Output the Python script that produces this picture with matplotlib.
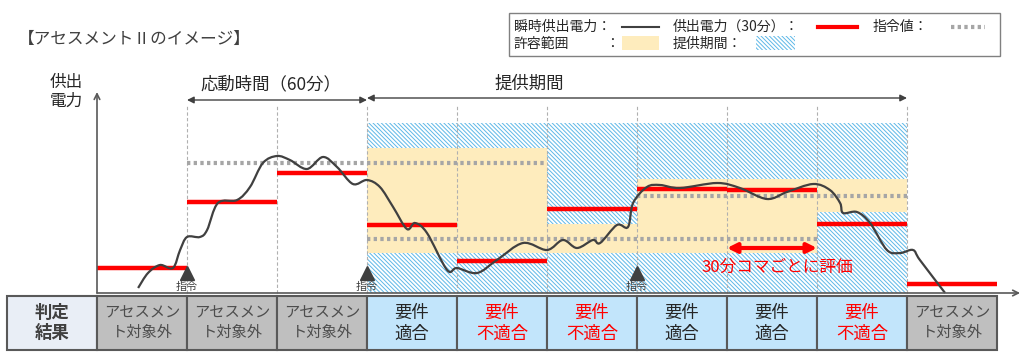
import matplotlib.pyplot as plt
from matplotlib.patches import Rectangle, PathPatch
from matplotlib.lines import Line2D
from matplotlib.path import Path

plt.rcParams['font.family'] = ['Noto Sans CJK JP', 'DejaVu Sans']
plt.rcParams['hatch.linewidth'] = 0.7

W, H = 1024, 355

# %% data (time in minutes, power in arbitrary units)
slot_edges = [0, 30, 60, 90, 120, 150, 180, 210, 240, 270, 300]
power_30min = [12.5, 45.5, 60, 34, 16, 42, 52, 51.5, 34.5, 4.5]

cmd_start = [30, 90, 180]
cmd_end = [150, 240, 270]
cmd_value = [65, 27, 48.5]

tol_start = [90, 150, 180, 240]
tol_end = [150, 180, 240, 270]
tol_low = [20, 20, 20, 40.5]
tol_high = [72.5, 34.5, 57, 57]

supply_start, supply_end, supply_top = 90, 270, 85
order_times = [30, 90, 180]

inst_t = [13.7, 17, 21, 25.3, 27.7, 30, 34.3, 36.7, 40.3, 46.7, 51, 55.3, 60, 64.3,
          70, 75.3, 80, 85.3, 90, 94.3, 98.7, 103.3, 106, 110, 116.7, 120, 126.7,
          133.3, 142, 150, 155.3, 160, 165.3, 167.7, 173.3, 177, 178.7, 183.3,
          187.7, 194.3, 206.7, 214.3, 223.3, 230, 238.7, 244.3, 247.7, 248.7,
          253.3, 257.7, 263.3, 267.7, 272, 274.3, 282.7]
inst_p = [2.5, 10, 14, 12.5, 21.5, 28, 28, 31.5, 45, 46.5, 53, 65, 68.5, 66.5,
          62, 68, 63, 54.5, 56.5, 53, 43, 32, 35, 30, 11.5, 12.5, 10,
          16.5, 25, 21.5, 26.5, 22.5, 26.5, 25, 34, 33, 45, 53,
          54, 52.5, 55, 52.5, 47, 50.5, 54.5, 51.5, 45, 40,
          40.5, 35, 21.5, 20, 21.5, 16.5, 0]

results = ['out', 'out', 'out', 'ok', 'ng', 'ng', 'ok', 'ok', 'ng', 'out']
result_text = {'out': 'アセスメン\nト対象外', 'ok': '要件\n適合', 'ng': '要件\n不適合'}

DARK = '#404040'
RED = '#ff0000'
DOT = '#a6a6a6'
YELLOW = '#feecbd'
HATCH = '#5db8e8'
HATCH_PAT = '\\' * 8


def smooth_path(xs, ys):
    # Catmull-Rom through the points, drawn as cubic Bezier segments
    pts = list(zip(xs, ys))
    verts = [pts[0]]
    codes = [Path.MOVETO]
    for i in range(len(pts) - 1):
        p0 = pts[i - 1] if i > 0 else pts[i]
        p1, p2 = pts[i], pts[i + 1]
        p3 = pts[i + 2] if i + 2 < len(pts) else pts[i + 1]
        c1 = (p1[0] + (p2[0] - p0[0]) / 6, p1[1] + (p2[1] - p0[1]) / 6)
        c2 = (p2[0] - (p3[0] - p1[0]) / 6, p2[1] - (p3[1] - p1[1]) / 6)
        verts += [c1, c2, p2]
        codes += [Path.CURVE4] * 3
    return Path(verts, codes)


# %% figure
fig = plt.figure(figsize=(W / 100, H / 100), dpi=100)
ax = fig.add_axes([0, 0, 1, 1])
ax.set_xlim(-97 / 3, (W - 97) / 3)
ax.set_ylim((293 - H) / 2, 293 / 2)
ax.axis('off')

# provision period (hatched)
ax.add_patch(Rectangle((supply_start, 0), supply_end - supply_start, supply_top,
                       facecolor='white', edgecolor=HATCH, hatch=HATCH_PAT, lw=0, zorder=1))
# tolerance bands
for s, e, lo, hi in zip(tol_start, tol_end, tol_low, tol_high):
    ax.add_patch(Rectangle((s, lo), e - s, hi - lo, facecolor=YELLOW, lw=0, zorder=2))

# slot borders
for t in slot_edges[1:-1]:
    ax.plot([t, t], [0, 94], color='#b0b0b0', lw=0.8, ls=(0, (3, 2)), zorder=3)

# command values
for s, e, v in zip(cmd_start, cmd_end, cmd_value):
    ax.plot([s, e], [v, v], color=DOT, lw=3, ls=(0, (0.8, 0.8)), zorder=4)

# 30-min supplied power
for i, v in enumerate(power_30min):
    ax.plot([slot_edges[i], slot_edges[i + 1]], [v, v], color=RED, lw=3.2,
            solid_capstyle='butt', zorder=5)

# instantaneous power
ax.add_patch(PathPatch(smooth_path(inst_t, inst_p), facecolor='none', edgecolor=DARK,
                       lw=1.6, zorder=6))

# axes arrows
ax.annotate('', xy=(0, 100.5), xytext=(0, 0),
            arrowprops=dict(arrowstyle='->', color='#595959', lw=1.2, shrinkA=0, shrinkB=0), zorder=7)
ax.annotate('', xy=(307.7, 0), xytext=(0, 0),
            arrowprops=dict(arrowstyle='->', color='#595959', lw=1.2, shrinkA=0, shrinkB=0), zorder=7)
ax.text(-10.3, 100.5, '供出\n電力', ha='center', va='center', fontsize=12, color='#262626',
        linespacing=1.1)

# orders
for t in order_times:
    ax.plot(t, 10, marker='^', ms=10, color=DARK, zorder=8, clip_on=False)
    ax.text(t, 3.2, '指令', ha='center', va='center', fontsize=8, color=DARK, zorder=12)

# period arrows
ax.annotate('', xy=(30, 96.5), xytext=(90, 96.5),
            arrowprops=dict(arrowstyle='<|-|>', color=DARK, lw=1, mutation_scale=10,
                            shrinkA=0, shrinkB=0))
ax.annotate('', xy=(90, 97.5), xytext=(270, 97.5),
            arrowprops=dict(arrowstyle='<|-|>', color=DARK, lw=1, mutation_scale=10,
                            shrinkA=0, shrinkB=0))
ax.text(58, 104.5, '応動時間（60分）', ha='center', va='center', fontsize=12.5, color='#262626')
ax.text(144, 104.5, '提供期間', ha='center', va='center', fontsize=12.5, color='#262626')

# evaluation note
ax.annotate('', xy=(210, 22.5), xytext=(240, 22.5),
            arrowprops=dict(arrowstyle='<|-|>', color=RED, lw=3, mutation_scale=14,
                            shrinkA=0, shrinkB=0), zorder=9)
ax.text(226.7, 13, '30分コマごとに評価', ha='center', va='center', fontsize=12, color=RED, zorder=9)

# result table
ty0, ty1 = -28.5, -1.5
ax.add_patch(Rectangle((-30, ty0), 30, ty1 - ty0, facecolor='#e9eef6', edgecolor='#595959',
                       lw=1.5, zorder=10))
ax.text(-15, (ty0 + ty1) / 2, '判定\n結果', ha='center', va='center', fontsize=12.5,
        fontweight='bold', color=DARK, linespacing=1.2, zorder=11)
for i, r in enumerate(results):
    fc = '#bfbfbf' if r == 'out' else '#c2e5fb'
    tc = RED if r == 'ng' else ('#4d4d4d' if r == 'out' else '#262626')
    fs = 11 if r == 'out' else 12.5
    ax.add_patch(Rectangle((slot_edges[i], ty0), 30, ty1 - ty0, facecolor=fc,
                           edgecolor='#595959', lw=1.5, zorder=10))
    ax.text(slot_edges[i] + 15, (ty0 + ty1) / 2, result_text[r], ha='center', va='center',
            fontsize=fs, color=tc, linespacing=1.2, zorder=11)

# %% title and legend (figure pixel positions)
def fxy(px, py):
    return px / W, 1 - py / H

fig.text(*fxy(18, 39), '【アセスメントⅡのイメージ】', ha='left', va='center', fontsize=12, color=DARK)

lx, ly = fxy(509, 56)
fig.patches.append(Rectangle((lx, ly), (1000 - 509) / W, (56 - 13) / H, transform=fig.transFigure,
                             facecolor='white', edgecolor='#808080', lw=1, zorder=20))
legend_txt = [(514, 27, '瞬時供出電力：'), (673, 27, '供出電力（30分）：'), (873, 27, '指令値：'),
              (514, 44, '許容範囲'), (605, 44, '：'), (673, 44, '提供期間：')]
for px, py, s in legend_txt:
    fig.text(*fxy(px, py), s, ha='left', va='center', fontsize=10, color='#262626', zorder=21)
for (x0, x1), c, lw, ls in [((622, 659), DARK, 1.5, '-'), ((818, 857), RED, 3, '-'),
                            ((951, 985), DOT, 3, (0, (0.8, 0.8)))]:
    fig.lines.append(Line2D([x0 / W, x1 / W], [1 - 27 / H] * 2, transform=fig.transFigure,
                            color=c, lw=lw, ls=ls, zorder=21))
fig.patches.append(Rectangle(fxy(622, 50), 37 / W, 14 / H, transform=fig.transFigure,
                             facecolor=YELLOW, lw=0, zorder=21))
fig.patches.append(Rectangle(fxy(756, 50), 39 / W, 14 / H, transform=fig.transFigure,
                             facecolor='white', edgecolor=HATCH, hatch=HATCH_PAT, lw=0, zorder=21))

fig.savefig('out.png', dpi=100)
